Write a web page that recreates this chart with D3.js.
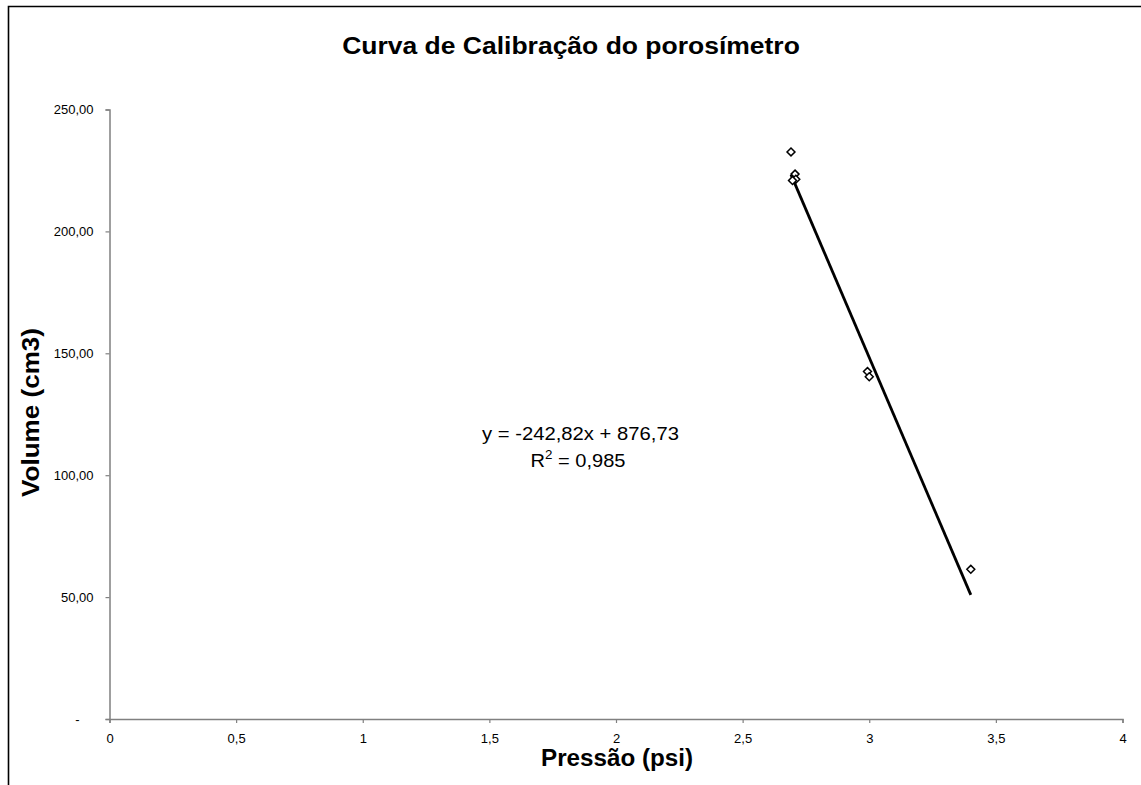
<!DOCTYPE html>
<html>
<head>
<meta charset="utf-8">
<script src="https://cdn.jsdelivr.net/npm/d3@7"></script>
<style>
  html, body { margin: 0; padding: 0; background: #fff; }
  svg { display: block; font-family: "Liberation Sans", Arial, sans-serif; }
</style>
</head>
<body>
<svg id="chart" width="1141" height="785"></svg>
<script>
// Calibration measurements: pressure (psi) vs volume (cm3)
const pressure = [2.691, 2.707, 2.710, 2.697, 2.993, 3.000, 3.401];
const volume   = [232.6, 223.5, 221.4, 220.9, 142.5, 140.4, 61.4];

// Linear fit as stated on the chart
const slope = -242.82;
const intercept = 876.73;
const rSquared = 0.985;

const xTicks = [0, 0.5, 1, 1.5, 2, 2.5, 3, 3.5, 4];
const yTicks = [0, 50, 100, 150, 200, 250];

const svg = d3.select("#chart");
const plot = { left: 109.5, right: 1122.5, top: 109.5, bottom: 719 };

const x = d3.scaleLinear().domain([0, 4]).range([plot.left, plot.right]);
const y = d3.scaleLinear().domain([0, 250]).range([plot.bottom, plot.top]);

const ptBr = v => String(v).replace(".", ",");
const yFmt = v => v === 0 ? "-" : d3.format(".2f")(v).replace(".", ",");

// Places a text at (px, py) and stretches it horizontally to a given width
function fittedText(parent, px, py, str, size, width, opts = {}) {
  const t = parent.append("text")
    .attr("x", 0).attr("y", 0)
    .attr("text-anchor", "middle")
    .attr("font-size", size)
    .attr("font-weight", opts.bold ? "bold" : null);
  if (typeof str === "function") str(t); else t.text(str);
  const w = t.node().getComputedTextLength();
  const s = width / w;
  const rot = opts.rotate ? ` rotate(${opts.rotate})` : "";
  t.attr("transform", `translate(${px},${py})${rot} scale(${s},1)`);
  return t;
}

// Outer chart frame (left and top edges visible)
svg.append("path")
  .attr("d", "M8.5,785 L8.5,6.5 L1141,6.5")
  .attr("fill", "none").attr("stroke", "#000").attr("stroke-width", 1.6);

// Title
fittedText(svg, 571, 54, "Curva de Calibração do porosímetro", 24, 458, { bold: true });

// Axes
const axisColor = "#808080";
const xAxis = svg.append("g")
  .attr("transform", `translate(0,${plot.bottom})`)
  .call(d3.axisBottom(x).tickValues(xTicks).tickFormat(ptBr).tickSize(4).tickPadding(11));
const yAxis = svg.append("g")
  .attr("transform", `translate(${plot.left},0)`)
  .call(d3.axisLeft(y).tickValues(yTicks).tickFormat(yFmt).tickSize(4).tickPadding(12));

[xAxis, yAxis].forEach(g => {
  g.select(".domain").attr("stroke", axisColor).attr("stroke-width", 1.5);
  g.selectAll(".tick line").attr("stroke", axisColor).attr("stroke-width", 1.2);
  g.selectAll(".tick text")
    .attr("fill", "#000").attr("font-size", 13)
    .attr("font-family", "'Liberation Sans', Arial, sans-serif");
});
// Accounting-style zero: the dash sits two digit widths in from the right
yAxis.selectAll(".tick text").filter(d => d === 0).attr("dx", -14);

// Axis titles
fittedText(svg, 617, 766, "Pressão (psi)", 23, 152, { bold: true });
fittedText(svg, 39, 412.5, "Volume (cm3)", 24, 169, { bold: true, rotate: -90 });

// Trend line over the measured pressure range
const [xMin, xMax] = d3.extent(pressure);
svg.append("line")
  .attr("x1", x(xMin)).attr("y1", y(slope * xMin + intercept))
  .attr("x2", x(xMax)).attr("y2", y(slope * xMax + intercept))
  .attr("stroke", "#000").attr("stroke-width", 2.8);

// Data markers (hollow diamonds)
const diamond = d3.symbol().type(d3.symbolDiamond2).size(40);
svg.append("g").selectAll("path")
  .data(pressure.map((p, i) => [p, volume[i]]))
  .join("path")
  .attr("d", diamond)
  .attr("transform", d => `translate(${x(d[0])},${y(d[1])})`)
  .attr("fill", "#fff").attr("stroke", "#000").attr("stroke-width", 1.5);

// Fit equation and coefficient of determination
fittedText(svg, 580.5, 439.5, `y = ${ptBr(slope)}x + ${ptBr(intercept)}`, 18, 197);
fittedText(svg, 578, 467, t => {
  t.append("tspan").text("R");
  t.append("tspan").attr("font-size", 12).attr("dy", -8).text("2");
  t.append("tspan").attr("dy", 8).text(` = ${ptBr(rSquared)}`);
}, 18, 95);
</script>
</body>
</html>
